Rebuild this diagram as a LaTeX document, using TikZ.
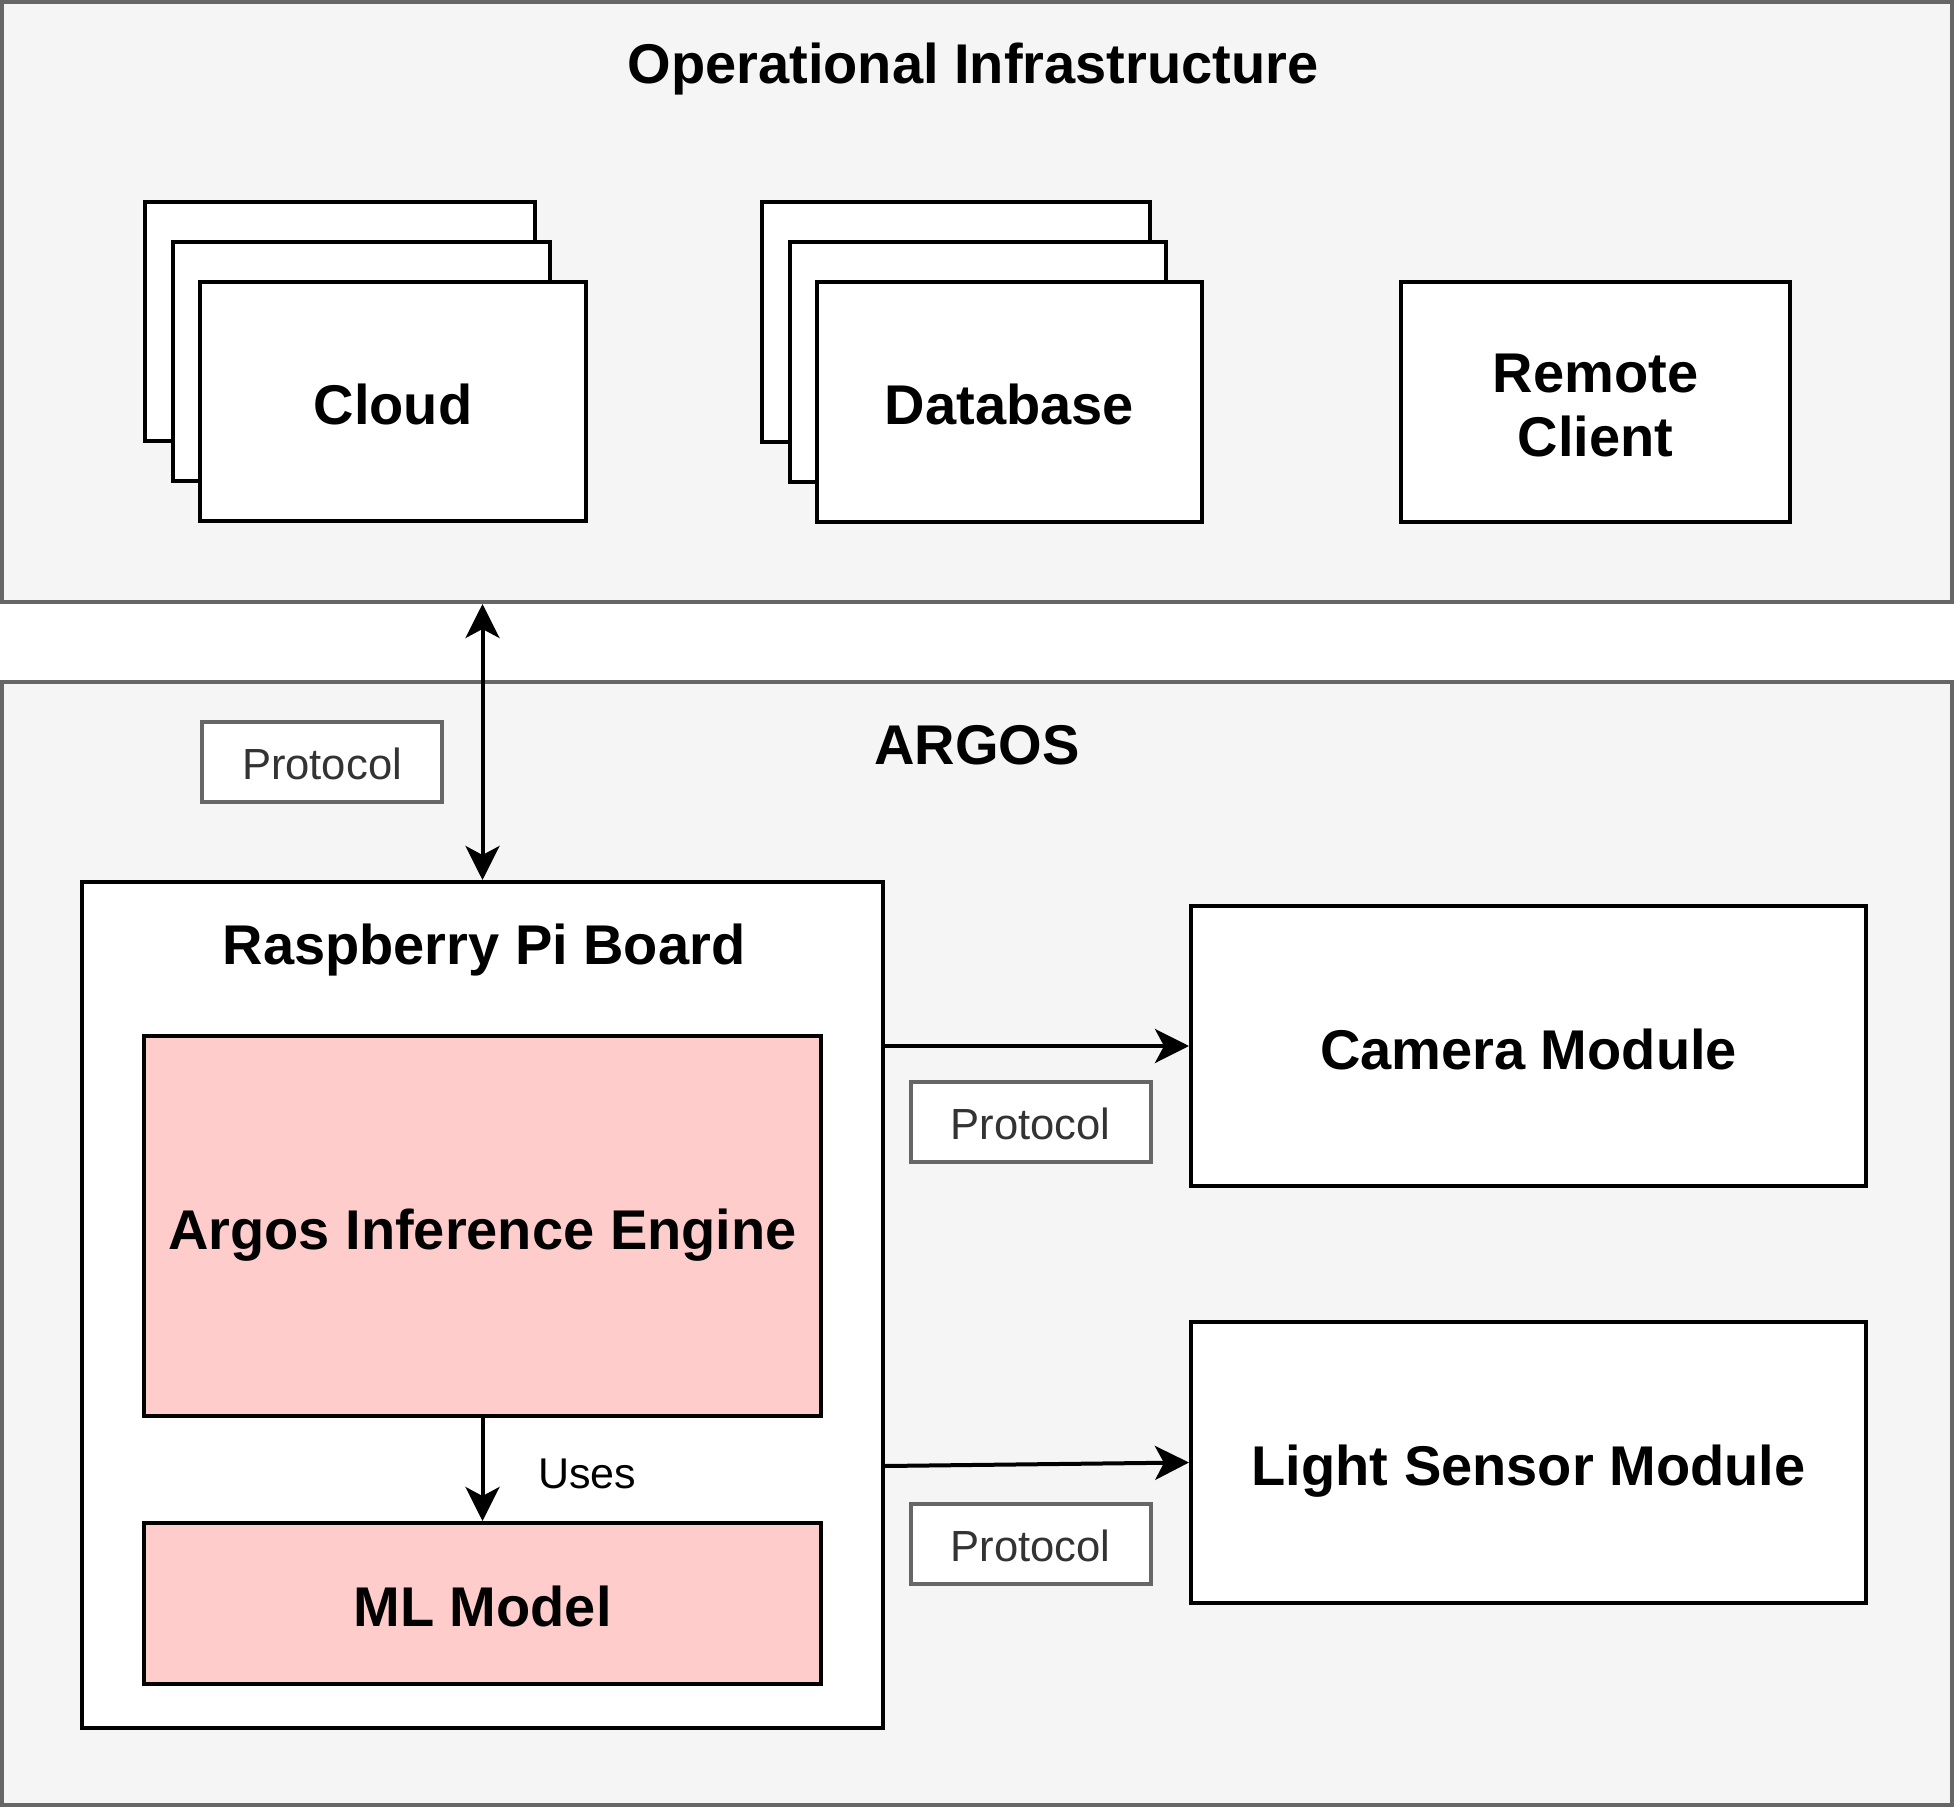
\documentclass[tikz,border=0pt]{standalone}
\usepackage{fontspec}
\setmainfont{Liberation Sans}
\usetikzlibrary{arrows.meta}
\definecolor{panelfill}{HTML}{F5F5F5}
\definecolor{panelline}{HTML}{666666}
\definecolor{enginefill}{HTML}{FFCCCC}
\definecolor{labeltext}{HTML}{333333}
\begin{document}
\begin{tikzpicture}[x=0.5pt,y=-0.5pt,
  panel/.style={draw=panelline, fill=panelfill, line width=2pt, inner sep=0pt},
  boldtext/.style={font=\fontsize{28}{32}\selectfont\bfseries, text height=23pt, text depth=0pt},
  box/.style={draw=black, fill=white, line width=2pt, inner sep=0pt, align=center, boldtext},
  pinkbox/.style={box, fill=enginefill},
  title/.style={inner sep=0pt, font=\fontsize{28}{32}\selectfont\bfseries, text height=20pt, text depth=0pt},
  protocol/.style={draw=panelline, fill=white, line width=2pt, inner sep=0pt,
    minimum width=120pt, minimum height=40pt, text=labeltext,
    font=\fontsize{21.8}{26}\selectfont, text height=17.6pt, text depth=0pt},
  link/.style={line width=2pt, -{Stealth[length=17pt, width=17pt, inset=4.5pt]}},
  biglink/.style={line width=2pt, {Stealth[length=17pt, width=17pt, inset=4.5pt]}-{Stealth[length=17pt, width=17pt, inset=4.5pt]}},
  stack/.style={draw=black, fill=white, line width=2pt}
]
\useasboundingbox (0,0) rectangle (1956,1808);

% outer panels
\node[panel, minimum width=975pt, minimum height=300pt] (infra) at (977,302) {};
\node[panel, minimum width=975pt, minimum height=561.5pt] (argos) at (977,1243.5) {};
\node[title] (infratitle) at (973,64) {Operational Infrastructure};
\node[title] (argostitle) at (977,744) {ARGOS};

% cloud stack
\draw[stack] (145,202) rectangle (535,441);
\draw[stack] (173,242) rectangle (550,481);
\node[box, minimum width=193pt, minimum height=119.5pt] (cloud) at (393,401.5) {Cloud};

% database stack
\draw[stack] (762,202) rectangle (1150,442);
\draw[stack] (790,242) rectangle (1166,482);
\node[box, minimum width=192.5pt, minimum height=120pt] (database) at (1009.5,402) {Database};

% remote client
\node[box, minimum width=194.5pt, minimum height=120pt, text height=55pt, text depth=0pt] (remote) at (1595.5,402) {Remote\\Client};

% raspberry pi board
\node[box, minimum width=400.5pt, minimum height=423pt] (rpi) at (482.5,1305) {};
\node[title] (rpititle) at (484,944) {Raspberry Pi Board};
\node[pinkbox, minimum width=338.5pt, minimum height=190pt] (engine) at (482.5,1226) {Argos Inference Engine};
\node[pinkbox, minimum width=338.5pt, minimum height=80.5pt] (model) at (482.5,1603.5) {ML Model};

% peripheral modules
\node[box, minimum width=337.5pt, minimum height=140pt] (camera) at (1528.5,1046) {Camera Module};
\node[box, minimum width=337.5pt, minimum height=140.5pt] (light) at (1528.5,1462.5) {Light Sensor Module};

% protocol labels
\node[protocol] (proto1) at (322,762) {Protocol};
\node[protocol] (proto2) at (1030.5,1122) {Protocol};
\node[protocol] (proto3) at (1030.5,1543.5) {Protocol};

% connectors
\draw[biglink] (rpi.north |- infra.south) -- (rpi.north);
\draw[link] (camera.west -| rpi.east) -- (camera.west);
\draw[link] ([yshift=-80.5pt]rpi.east) -- (light.west);
\draw[link] (engine.south) -- (model.north);
\node[inner sep=0pt, font=\fontsize{21.5}{26}\selectfont, text height=15.4pt, text depth=0pt] (uses) at (587,1473) {Uses};
\end{tikzpicture}
\end{document}
